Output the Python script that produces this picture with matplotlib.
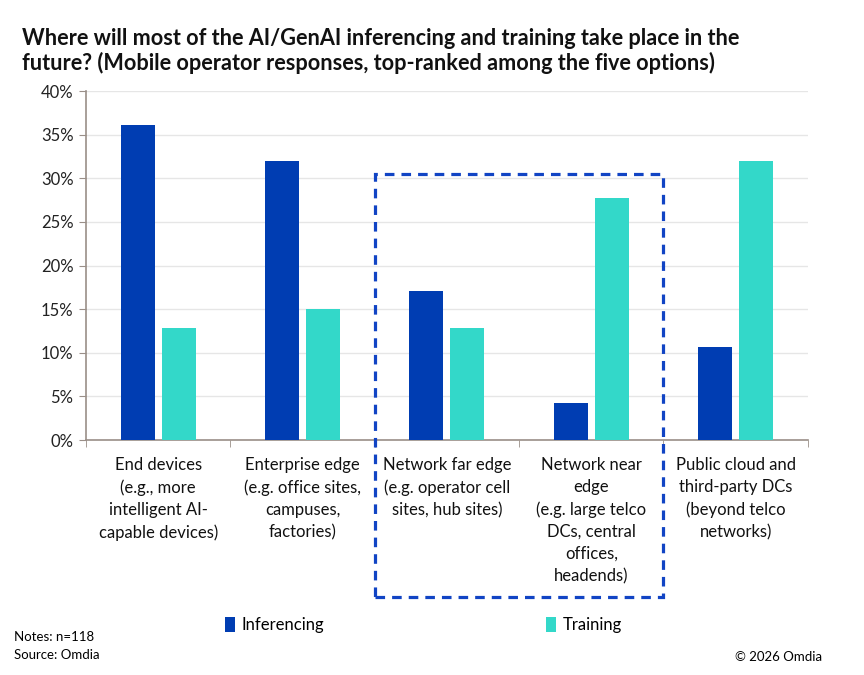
import numpy as np
import matplotlib.pyplot as plt
from matplotlib.patches import Rectangle

plt.rcParams['font.family'] = ['Lato', 'DejaVu Sans']

categories = [
    "End devices\n(e.g., more\nintelligent AI-\ncapable devices)",
    "Enterprise edge\n(e.g. office sites,\ncampuses,\nfactories)",
    "Network far edge\n(e.g. operator cell\nsites, hub sites)",
    "Network near\nedge\n(e.g. large telco\nDCs, central\noffices,\nheadends)",
    "Public cloud and\nthird-party DCs\n(beyond telco\nnetworks)",
]
inferencing = [36.1, 32.0, 17.1, 4.2, 10.7]
training = [12.8, 15.0, 12.8, 27.7, 32.0]
y_ticks = [0, 5, 10, 15, 20, 25, 30, 35, 40]

blue = "#003DB2"
teal = "#33D8C9"
axis_col = "#9A8F88"

fig = plt.figure(figsize=(8.64, 6.75), dpi=100)
ax = fig.add_axes([0.0995, 0.348, 0.8355, 0.517])

x = np.arange(len(categories))
w = 0.235
off = 0.142
ax.bar(x - off, inferencing, w, color=blue, label="Inferencing", zorder=3)
ax.bar(x + off, training, w, color=teal, label="Training", zorder=3)

ax.set_xlim(-0.5, 4.5)
ax.set_ylim(0, 40)
ax.set_yticks(y_ticks)
ax.set_yticklabels([f"{v}%" for v in y_ticks], fontsize=12, color="#222222")
ax.yaxis.grid(True, color="#E6E6E6", linewidth=1, zorder=0)
ax.set_axisbelow(True)

ax.set_xticks(x)
ax.set_xticklabels(categories, fontsize=12, color="#111111", linespacing=1.47, va="top")
ax.tick_params(axis="x", which="major", length=0, pad=12)
ax.set_xticks(np.arange(-0.5, 5.0, 1.0), minor=True)
ax.tick_params(axis="x", which="minor", length=5, color=axis_col, direction="out")
ax.tick_params(axis="y", length=5, color=axis_col, pad=4)

for s in ["top", "right"]:
    ax.spines[s].set_visible(False)
ax.spines["left"].set_color(axis_col)
ax.spines["bottom"].set_color(axis_col)
ax.spines["left"].set_linewidth(1.2)
ax.spines["bottom"].set_linewidth(1.2)

# dashed highlight around the two network edge groups
box = Rectangle((1.5, -18.0), 2.0, 48.5, fill=False, edgecolor="#1144C4",
                linewidth=2.3, linestyle=(0, (3, 2.2)), clip_on=False, zorder=5)
ax.add_patch(box)

fig.text(0.025, 0.959, "Where will most of the AI/GenAI inferencing and training take place in the\n"
         "future? (Mobile operator responses, top-ranked among the five options)",
         fontsize=15.6, fontweight="bold", va="top", ha="left", linespacing=1.2, color="#111111")

fig.legend(loc="center", bbox_to_anchor=(0.49, 0.074), ncol=2, frameon=False,
           fontsize=12, handlelength=0.6, handleheight=1.0, handletextpad=0.4,
           columnspacing=13.3)

fig.text(0.016, 0.057, "Notes: n=118", fontsize=9.5, va="center")
fig.text(0.016, 0.029, "Source: Omdia", fontsize=9.5, va="center")
fig.text(0.952, 0.027, "\u00a9 2026 Omdia", fontsize=9.5, va="center", ha="right")

fig.savefig("out.png", dpi=100)
